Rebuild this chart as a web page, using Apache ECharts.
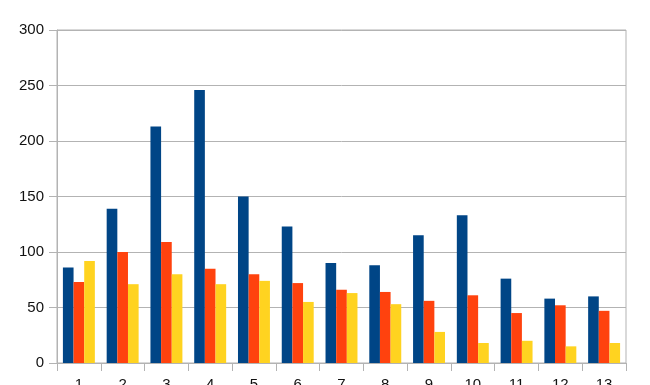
<!DOCTYPE html>
<html><head><meta charset="utf-8">
<script src="https://cdn.jsdelivr.net/npm/echarts@6/dist/echarts.min.js"></script>
<style>html,body{margin:0;padding:0;background:#fff}#c{width:650px;height:385px}</style>
</head><body><div id="c"></div>
<script>
const categories = ['1','2','3','4','5','6','7','8','9','10','11','12','13'];
const seriesA = [86, 139, 213, 246, 150, 123, 90, 88, 115, 133, 76, 58, 60];
const seriesB = [73, 100, 109, 85, 80, 72, 66, 64, 56, 61, 45, 52, 47];
const seriesC = [92, 71, 80, 71, 74, 55, 63, 53, 28, 18, 20, 15, 18];
const yTicks = {min: 0, max: 300, interval: 50};

const chart = echarts.init(document.getElementById('c'), null, {renderer: 'canvas'});
const gridColor = '#b3b3b3';
const font = 'Liberation Sans, Arial, sans-serif';
chart.setOption({
  animation: false,
  grid: {left: 57, right: 24, top: 30, bottom: 22, containLabel: false, outerBoundsMode: 'none',
         show: true, borderColor: gridColor, borderWidth: 1, backgroundColor: 'transparent'},
  xAxis: {
    type: 'category', data: categories,
    axisLine: {lineStyle: {color: gridColor}},
    axisTick: {show: true, length: 8, lineStyle: {color: gridColor}},
    axisLabel: {color: '#111', fontSize: 15, fontFamily: font, margin: 14},
    splitLine: {show: false}
  },
  yAxis: {
    type: 'value', min: yTicks.min, max: yTicks.max, interval: yTicks.interval,
    axisLine: {show: true, lineStyle: {color: gridColor}},
    axisTick: {show: true, length: 8, lineStyle: {color: gridColor}},
    axisLabel: {color: '#111', fontSize: 15, fontFamily: font, margin: 13},
    splitLine: {show: true, lineStyle: {color: gridColor, width: 1}}
  },
  series: [
    {type: 'bar', data: seriesA, itemStyle: {color: '#004586'}, barGap: '0%', barCategoryGap: '27%'},
    {type: 'bar', data: seriesB, itemStyle: {color: '#ff420e'}, barGap: '0%', barCategoryGap: '27%'},
    {type: 'bar', data: seriesC, itemStyle: {color: '#ffd320'}, barGap: '0%', barCategoryGap: '27%'}
  ]
});
</script></body></html>
